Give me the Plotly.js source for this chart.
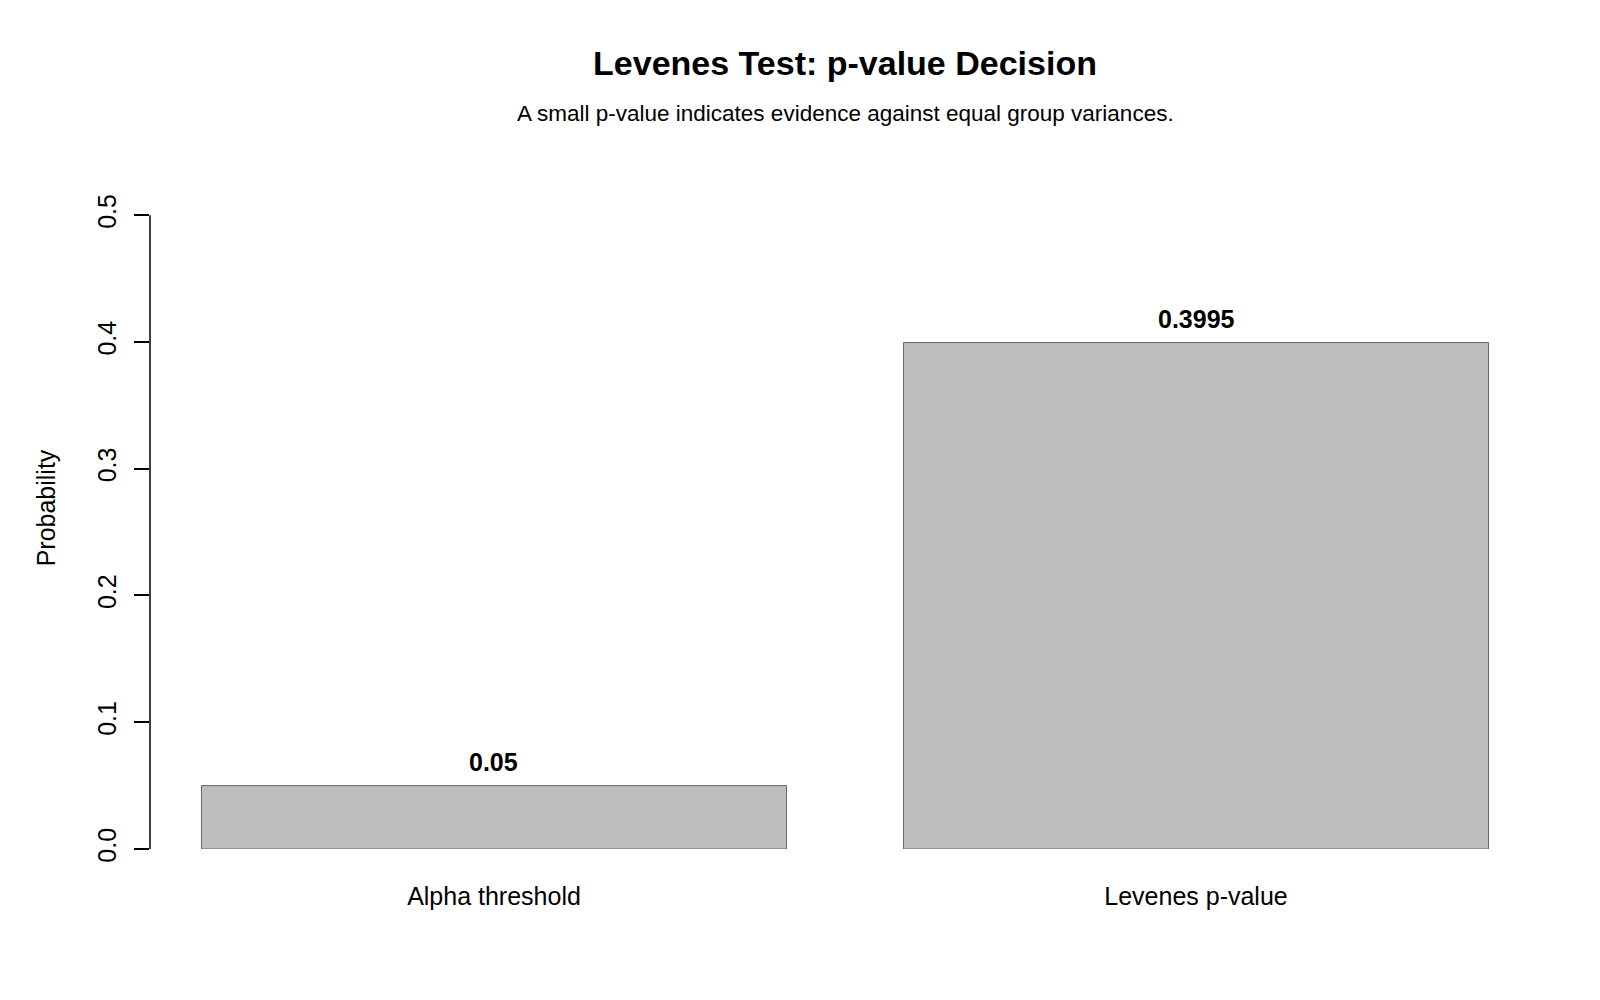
<!DOCTYPE html>
<html>
<head>
<meta charset="utf-8">
<script src="https://cdn.plot.ly/plotly-3.0.1.min.js"></script>
<style>
  html, body { margin: 0; padding: 0; background: #fff; }
  #chart { width: 1600px; height: 1000px; }
</style>
</head>
<body>
<div id="chart"></div>
<script>
// values
var categories = ['Alpha threshold', 'Levenes p-value'];
var probs = [0.05, 0.3995];
var barLabels = ['0.05', '0.3995'];
var yTicks = [0, 0.1, 0.2, 0.3, 0.4, 0.5];
var yTickText = ['0.0', '0.1', '0.2', '0.3', '0.4', '0.5'];

var font = 'Liberation Sans, Arial, sans-serif';

var bars = {
    x: categories,
    y: probs,
    type: 'bar',
    marker: {
        color: '#bebebe',
        line: { color: '#666666', width: 1 }
    },
    hoverinfo: 'x+y'
};

// value labels above each bar
var notes = categories.map(function (c, i) {
    return {
        x: c, y: probs[i], xref: 'x', yref: 'y',
        text: '<b>' + barLabels[i] + '</b>',
        showarrow: false, yanchor: 'bottom', yshift: 8,
        font: { family: font, size: 25, color: '#000' }
    };
});

notes.push({
    x: 0.5, y: 1.078, xref: 'paper', yref: 'paper',
    text: 'A small p-value indicates evidence against equal group variances.',
    showarrow: false, xanchor: 'center', yanchor: 'middle',
    font: { family: font, size: 22.5, color: '#000' }
});

var layout = {
    width: 1600,
    height: 1000,
    margin: { l: 150, r: 60, t: 167, b: 151 },
    paper_bgcolor: '#fff',
    plot_bgcolor: '#fff',
    font: { family: font, color: '#000' },
    showlegend: false,
    bargap: 1 / 6,
    title: {
        text: '<b>Levenes Test: p-value Decision</b>',
        font: { family: font, size: 34, color: '#000' },
        x: 0.5, xref: 'paper', xanchor: 'center',
        y: 0.937, yref: 'container', yanchor: 'middle'
    },
    xaxis: {
        type: 'category',
        range: [-0.49, 1.49],
        showline: false,
        showgrid: false,
        zeroline: false,
        ticks: '',
        ticklabelstandoff: 30,
        tickfont: { family: font, size: 25, color: '#000' }
    },
    yaxis: {
        range: [0, 0.538],
        showline: false,
        showgrid: false,
        zeroline: false,
        tickmode: 'array',
        tickvals: yTicks,
        ticktext: yTickText,
        ticks: 'outside',
        ticklen: 15,
        tickwidth: 1.5,
        tickcolor: '#000',
        tickangle: -90,
        ticklabelstandoff: 8,
        tickfont: { family: font, size: 25, color: '#000' },
        title: {
            text: 'Probability',
            font: { family: font, size: 25, color: '#000' },
            standoff: 30
        }
    },
    shapes: [{
        // y axis line, only from the first to the last tick like base R
        type: 'line', xref: 'paper', yref: 'y',
        x0: 0, x1: 0, y0: yTicks[0], y1: yTicks[yTicks.length - 1],
        line: { color: '#000', width: 1.5 }
    }],
    annotations: notes
};

Plotly.newPlot('chart', [bars], layout, { displayModeBar: false });
</script>
</body>
</html>
